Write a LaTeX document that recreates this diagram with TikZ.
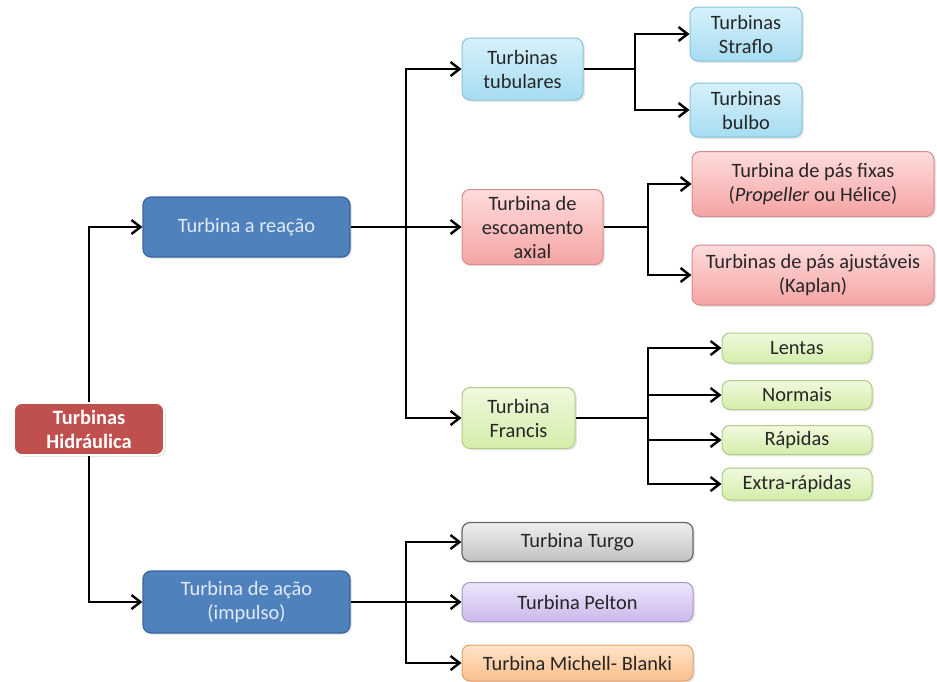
\documentclass[tikz,border=0pt]{standalone}
\usepackage{fontspec}
\setmainfont{Carlito}
\usetikzlibrary{arrows.meta,shadows}
\definecolor{rootred}{HTML}{C0504D}
\definecolor{boxblue}{HTML}{4F81BD}
\definecolor{blueline}{HTML}{3A659A}
\definecolor{bluetext}{HTML}{E2EBF6}
\definecolor{inktext}{HTML}{262626}
\definecolor{cyantop}{HTML}{D6F1FB}
\definecolor{cyanbot}{HTML}{A6DCF1}
\definecolor{cyanline}{HTML}{86C3DA}
\definecolor{pinktop}{HTML}{FFDCDC}
\definecolor{pinkbot}{HTML}{F4A3A3}
\definecolor{pinkline}{HTML}{D48C8C}
\definecolor{greentop}{HTML}{F0F9DE}
\definecolor{greenbot}{HTML}{D3EDAA}
\definecolor{greenline}{HTML}{AFCB86}
\definecolor{graytop}{HTML}{EEEEEE}
\definecolor{graybot}{HTML}{C2C2C2}
\definecolor{lilactop}{HTML}{EDE5FA}
\definecolor{lilacbot}{HTML}{CBB9EC}
\definecolor{lilacline}{HTML}{A797C8}
\definecolor{orangetop}{HTML}{FFE4C8}
\definecolor{orangebot}{HTML}{F9BF8C}
\definecolor{orangeline}{HTML}{DDA070}

\begin{document}
\begin{tikzpicture}[x=0.5pt, y=-0.5pt, >={Straight Barb[length=4.5pt,width=7pt]},
		font=\fontsize{10.2}{12}\selectfont,
		conn/.style={line width=1.2pt, black},
		box/.style={rounded corners=4pt, align=center, inner sep=2pt, text=inktext,
			drop shadow={opacity=0.18, shadow xshift=0.9pt, shadow yshift=-0.9pt}},
		sz/.style 2 args={minimum width=#1*0.5pt, minimum height=#2*0.5pt},
		rootbox/.style={box, fill=rootred, draw=white, line width=0.8pt, text=white, font=\fontsize{10.2}{12}\selectfont\bfseries},
		bluebox/.style={box, fill=boxblue, draw=blueline, line width=0.6pt, text=bluetext},
		cyanbox/.style={box, top color=cyantop, bottom color=cyanbot, draw=cyanline, line width=0.5pt},
		pinkbox/.style={box, top color=pinktop, bottom color=pinkbot, draw=pinkline, line width=0.5pt},
		greenbox/.style={box, top color=greentop, bottom color=greenbot, draw=greenline, line width=0.5pt},
		graybox/.style={box, top color=graytop, bottom color=graybot, draw=gray!80!black, line width=0.6pt},
		lilacbox/.style={box, top color=lilactop, bottom color=lilacbot, draw=lilacline, line width=0.5pt},
		orangebox/.style={box, top color=orangetop, bottom color=orangebot, draw=orangeline, line width=0.5pt}]
		\useasboundingbox[fill=white] (0,0) rectangle (937,681);

		\node[rootbox, sz={150}{52}] (root) at (89,429) {Turbinas\\Hidráulica};
		\node[bluebox, sz={207}{60}] (reacao) at (246.5,227) {Turbina a reação};
		\node[bluebox, sz={207}{62}] (acao) at (246.5,602) {Turbina de ação\\(impulso)};

		\node[cyanbox, sz={121}{62}] (tubul) at (522.5,69) {Turbinas\\tubulares};
		\node[cyanbox, sz={112}{54}] (straflo) at (746,34) {Turbinas\\Straflo};
		\node[cyanbox, sz={112}{54}] (bulbo) at (746,110) {Turbinas\\bulbo};

		\node[pinkbox, sz={141}{75}] (axial) at (532.5,227) {Turbina de\\escoamento\\axial};
		\node[pinkbox, sz={242}{65}] (fixas) at (813,184) {Turbina de pás fixas\\(\textit{Propeller} ou Hélice)};
		\node[pinkbox, sz={242}{60}] (kaplan) at (813,275) {Turbinas de pás ajustáveis\\(Kaplan)};

		\node[greenbox, sz={113}{61}] (francis) at (518.5,418) {Turbina\\Francis};
		\node[greenbox, sz={150}{30}] (lentas) at (797,348) {Lentas};
		\node[greenbox, sz={150}{29}] (normais) at (797,395) {Normais};
		\node[greenbox, sz={150}{29}] (rapidas) at (797,440) {Rápidas};
		\node[greenbox, sz={150}{32}] (extra) at (797,484) {Extra-rápidas};

		\node[graybox, sz={231}{39}] (turgo) at (577.5,542) {Turbina Turgo};
		\node[lilacbox, sz={231}{39}] (pelton) at (577.5,602) {Turbina Pelton};
		\node[orangebox, sz={231}{36}] (michell) at (577.5,663) {Turbina Michell- Blanki};

		\coordinate (ra) at (406,227);
		\coordinate (ac) at (406,602);
		\coordinate (tb) at (635,69);
		\coordinate (ax) at (648,227);
		\coordinate (fr) at (648,418);

		\draw[conn,->] (root.north) |- (reacao.west);
		\draw[conn,->] (root.south) |- (acao.west);

		\draw[conn,->] (reacao.east) -- (axial.west);
		\draw[conn,->] (ra) |- (tubul.west);
		\draw[conn,->] (ra) |- (francis.west);

		\draw[conn] (tubul.east) -- (tb);
		\draw[conn,->] (tb) |- (straflo.west);
		\draw[conn,->] (tb) |- (bulbo.west);

		\draw[conn] (axial.east) -- (ax);
		\draw[conn,->] (ax) |- (fixas.west);
		\draw[conn,->] (ax) |- (kaplan.west);

		\draw[conn] (francis.east) -- (fr);
		\draw[conn,->] (fr) |- (lentas.west);
		\draw[conn,->] (fr) |- (normais.west);
		\draw[conn,->] (fr) |- (rapidas.west);
		\draw[conn,->] (fr) |- (extra.west);

		\draw[conn,->] (acao.east) -- (pelton.west);
		\draw[conn,->] (ac) |- (turgo.west);
		\draw[conn,->] (ac) |- (michell.west);
\end{tikzpicture}
\end{document}
